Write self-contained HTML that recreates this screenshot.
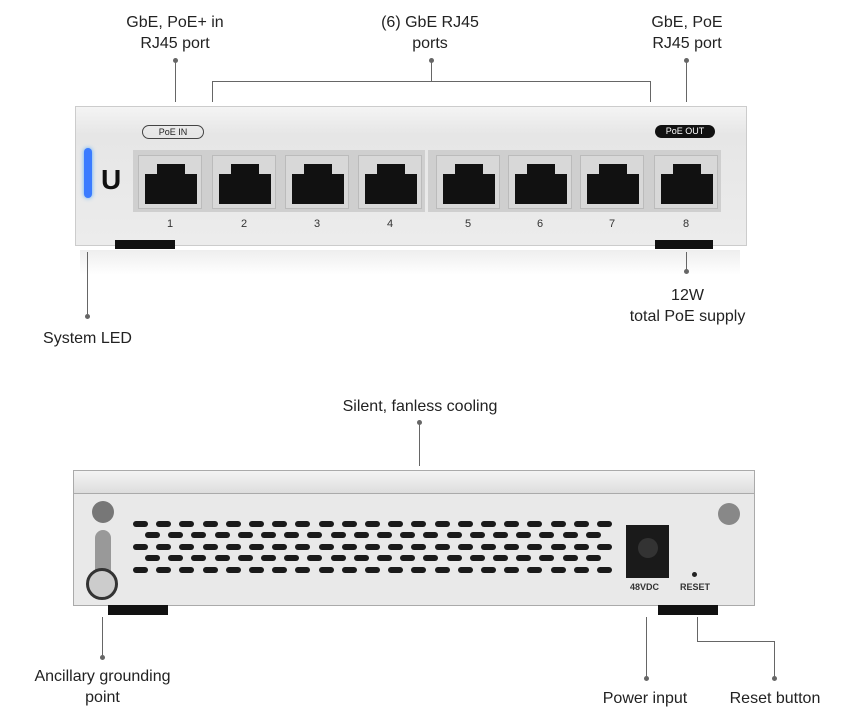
<!DOCTYPE html>
<html><head><style>
body{margin:0;width:857px;height:720px;background:#fff;position:relative;overflow:hidden;font-family:"Liberation Sans",sans-serif;}
.a{position:absolute}
.t{position:absolute;font-size:16px;color:#222;text-align:center;line-height:21px}
.l{position:absolute;background:#666;width:1px}
.d{position:absolute;width:5px;height:5px;border-radius:50%;background:#666}
.port{position:absolute;width:64px;height:54px;background:#d8d8d8;border:1px solid #bbb;box-sizing:border-box}
.port i{position:absolute;left:6px;top:18px;width:52px;height:30px;background:#111}
.port b{position:absolute;left:18px;top:8px;width:28px;height:12px;background:#111}
.num{position:absolute;font-size:11px;color:#333;width:20px;text-align:center}
.slot{position:absolute;width:15px;height:6px;border-radius:3px;background:#1a1a1a}
</style></head><body>
<div class="t" style="left:100px;top:12px;width:150px">GbE, PoE+ in<br>RJ45 port</div>
<div class="t" style="left:355px;top:12px;width:150px">(6) GbE RJ45<br>ports</div>
<div class="t" style="left:612px;top:12px;width:150px">GbE, PoE<br>RJ45 port</div>
<div class="d" style="left:173px;top:58px"></div><div class="l" style="left:175px;top:60px;height:42px"></div>
<div class="d" style="left:429px;top:58px"></div><div class="l" style="left:431px;top:60px;height:22px"></div>
<div class="a" style="left:212px;top:81px;width:437px;height:20px;border:1px solid #666;border-bottom:none"></div>
<div class="d" style="left:684px;top:58px"></div><div class="l" style="left:686px;top:60px;height:42px"></div>
<!-- front -->
<div class="a" style="left:75px;top:106px;width:672px;height:140px;background:linear-gradient(#f4f4f4,#e6e6e6 20%,#ececec);border:1px solid #ccc;box-sizing:border-box"></div>
<div class="a" style="left:84px;top:148px;width:8px;height:50px;border-radius:4px;background:#3a7bff;box-shadow:0 0 4px #5af"></div>
<div class="a" style="left:101px;top:164px;font-size:28px;font-weight:bold;color:#111">U</div>
<div class="a" style="left:142px;top:125px;width:60px;height:12px;border:1px solid #444;border-radius:7px;font-size:9px;text-align:center;line-height:12px;color:#222">PoE IN</div>
<div class="a" style="left:655px;top:125px;width:60px;height:13px;background:#111;border-radius:7px;font-size:9px;text-align:center;line-height:13px;color:#fff">PoE OUT</div>
<div class="a" style="left:133px;top:150px;width:292px;height:62px;background:#cfcfcf"></div>
<div class="a" style="left:428px;top:150px;width:293px;height:62px;background:#cfcfcf"></div>
<div class="a" style="left:115px;top:240px;width:60px;height:9px;background:#111"></div>
<div class="a" style="left:655px;top:240px;width:58px;height:9px;background:#111"></div>
<div class="a" style="left:80px;top:250px;width:660px;height:25px;background:linear-gradient(#eee,#fff)"></div>
<div id="ports"></div>
<div class="d" style="left:85px;top:314px"></div><div class="l" style="left:87px;top:252px;height:62px"></div>
<div class="t" style="left:20px;top:328px;width:135px">System LED</div>
<div class="d" style="left:684px;top:269px"></div><div class="l" style="left:686px;top:252px;height:20px"></div>
<div class="t" style="left:600px;top:285px;width:175px">12W<br>total PoE supply</div>
<!-- back -->
<div class="t" style="left:320px;top:396px;width:200px">Silent, fanless cooling</div>
<div class="d" style="left:417px;top:420px"></div><div class="l" style="left:419px;top:422px;height:44px"></div>
<div class="a" style="left:73px;top:470px;width:682px;height:136px;background:#e9e9e9;border:1px solid #aaa;box-sizing:border-box"></div>
<div class="a" style="left:74px;top:471px;width:680px;height:22px;background:linear-gradient(#f4f4f4,#ddd);border-bottom:1px solid #aaa"></div>
<div class="a" style="left:92px;top:501px;width:22px;height:22px;border-radius:50%;background:#777"></div>
<div class="a" style="left:718px;top:503px;width:22px;height:22px;border-radius:50%;background:#888"></div>
<div class="a" style="left:95px;top:530px;width:16px;height:50px;background:#999;border-radius:8px 8px 0 0"></div>
<div class="a" style="left:86px;top:568px;width:32px;height:32px;border-radius:50%;background:#ccc;border:3px solid #333;box-sizing:border-box"></div>
<div id="slots"></div>
<div class="a" style="left:626px;top:525px;width:43px;height:53px;background:#1a1a1a"></div>
<div class="a" style="left:638px;top:538px;width:20px;height:20px;border-radius:50%;background:#333"></div>
<div class="a" style="left:630px;top:582px;font-size:9px;font-weight:bold;color:#333">48VDC</div>
<div class="a" style="left:692px;top:572px;width:5px;height:5px;border-radius:50%;background:#222"></div>
<div class="a" style="left:680px;top:582px;font-size:9px;font-weight:bold;color:#333">RESET</div>
<div class="a" style="left:108px;top:605px;width:60px;height:10px;background:#111"></div>
<div class="a" style="left:658px;top:605px;width:60px;height:10px;background:#111"></div>
<div class="d" style="left:100px;top:655px"></div><div class="l" style="left:102px;top:617px;height:40px"></div>
<div class="t" style="left:20px;top:666px;width:165px">Ancillary grounding<br>point</div>
<div class="d" style="left:644px;top:676px"></div><div class="l" style="left:646px;top:617px;height:61px"></div>
<div class="t" style="left:585px;top:688px;width:120px">Power input</div>
<div class="l" style="left:697px;top:617px;height:25px"></div>
<div class="a" style="left:697px;top:641px;width:77px;height:1px;background:#666"></div>
<div class="l" style="left:774px;top:641px;height:36px"></div>
<div class="d" style="left:772px;top:676px"></div>
<div class="t" style="left:715px;top:688px;width:120px">Reset button</div>
<script>
var xs=[138,212,285,358,436,508,580,654],h='';
xs.forEach(function(x,i){h+='<div class="port" style="left:'+x+'px;top:155px"><b></b><i></i></div><div class="num" style="left:'+(x+22)+'px;top:218px">'+(i+1)+'</div>';});
document.getElementById('ports').innerHTML=h;
var s='',ys=[521,532,544,555,567];
ys.forEach(function(y,r){var x0=r%2?145:133;for(var x=x0;x<=605;x+=23.2)s+='<div class="slot" style="left:'+x+'px;top:'+y+'px"></div>';});
document.getElementById('slots').innerHTML=s;
</script>
</body></html>
